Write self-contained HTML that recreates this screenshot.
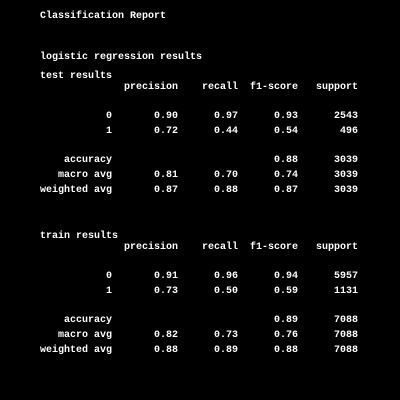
<!DOCTYPE html>
<html><head><style>
html,body{margin:0;padding:0;background:#000;}
#c{position:relative;width:400px;height:400px;background:#000;overflow:hidden;}
.l{position:absolute;left:40px;margin:0;white-space:pre;font-family:"Liberation Mono","DejaVu Sans Mono","Courier New",monospace !important;font-weight:bold;font-size:10px;line-height:12px;color:#fff;letter-spacing:0;}
</style></head><body>
<div id="c">
<div class="l" style="top:11px">Classification Report</div>
<div class="l" style="top:52px">logistic regression results</div>
<div class="l" style="top:71px">test results</div>
<div class="l" style="top:82px">              precision    recall  f1-score   support</div>
<div class="l" style="top:111px">           0       0.90      0.97      0.93      2543</div>
<div class="l" style="top:126px">           1       0.72      0.44      0.54       496</div>
<div class="l" style="top:155px">    accuracy                           0.88      3039</div>
<div class="l" style="top:170px">   macro avg       0.81      0.70      0.74      3039</div>
<div class="l" style="top:185px">weighted avg       0.87      0.88      0.87      3039</div>
<div class="l" style="top:231px">train results</div>
<div class="l" style="top:242px">              precision    recall  f1-score   support</div>
<div class="l" style="top:271px">           0       0.91      0.96      0.94      5957</div>
<div class="l" style="top:286px">           1       0.73      0.50      0.59      1131</div>
<div class="l" style="top:315px">    accuracy                           0.89      7088</div>
<div class="l" style="top:330px">   macro avg       0.82      0.73      0.76      7088</div>
<div class="l" style="top:345px">weighted avg       0.88      0.89      0.88      7088</div>
</div>
</body></html>
